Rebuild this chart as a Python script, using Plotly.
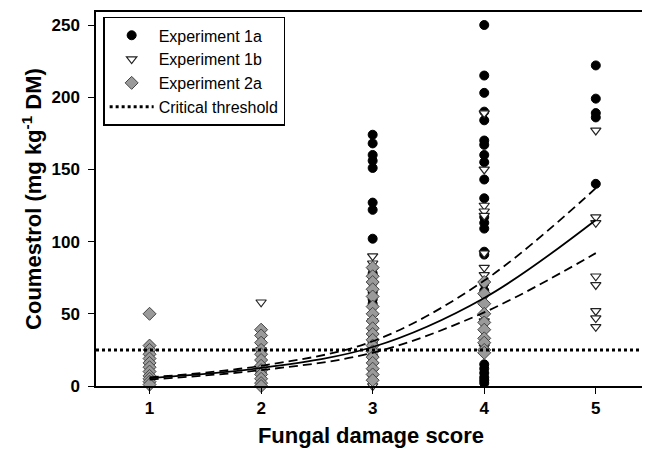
import plotly.graph_objects as go

# ---- data ----
exp1a_x = [3]*14 + [4]*24 + [5]*5
exp1a_y = [174, 168, 160, 156, 151, 127, 122, 102, 78, 65, 60, 57, 30, 25,
           250, 215, 203, 190, 184, 170, 167, 160, 155, 143, 130, 117, 113, 109, 93, 91, 71, 66, 15, 12, 9, 6, 4, 2,
           222, 199, 189, 186, 140]

exp1b_x = [1]*3 + [2]*3 + [3]*12 + [4]*11 + [5]*8
exp1b_y = [0, 3, 6,
           58, 25, 8,
           90, 85, 80, 70, 45, 38, 20, 15, 10, 6, 3, 0,
           189, 150, 125, 121, 118, 92, 82, 77, 62, 45, 27,
           177, 117, 113, 76, 70, 52, 47, 41]

exp2a_x = [1]*12 + [2]*12 + [3]*18 + [4]*10
exp2a_y = [50, 28, 25, 22, 19, 16, 13, 10, 7, 5, 3, 1,
           39, 35, 30, 25, 22, 18, 14, 11, 8, 5, 2, 0,
           82, 76, 72, 67, 62, 55, 50, 45, 40, 36, 32, 28, 24, 20, 16, 12, 8, 4,
           72, 64, 57, 50, 44, 39, 33, 30, 25, 23]

threshold = 25

fit_x = [1, 2, 3, 4, 5]
fit_mid = [5.5, 12.5, 27, 61, 115]
fit_upper = [6, 14, 31, 73, 137]
fit_lower = [4.5, 11, 23, 51, 92]

x_ticks = [1, 2, 3, 4, 5]
y_ticks = [0, 50, 100, 150, 200, 250]
X_RANGE = [0.52, 5.45]
Y_RANGE = [0, 259]

FONT = "Liberation Sans, Arial, sans-serif"

fig = go.Figure()

fig.add_trace(go.Scatter(
    x=exp1a_x, y=exp1a_y, mode="markers", name="Experiment 1a",
    marker=dict(symbol="circle", size=9, color="black", line=dict(color="black", width=1)),
    cliponaxis=False))
fig.add_trace(go.Scatter(
    x=exp1b_x, y=exp1b_y, mode="markers", name="Experiment 1b",
    marker=dict(symbol="triangle-down", size=9, color="white", line=dict(color="#222", width=1.2)),
    cliponaxis=False))
fig.add_trace(go.Scatter(
    x=exp2a_x, y=exp2a_y, mode="markers", name="Experiment 2a",
    marker=dict(symbol="diamond", size=10, color="#9a9a9a", line=dict(color="#444", width=1)),
    cliponaxis=False))
fig.add_trace(go.Scatter(
    x=[None], y=[None], mode="lines", name="Critical threshold",
    line=dict(color="black", width=3, dash="dot")))

fig.add_hline(y=threshold, line=dict(color="black", width=3, dash="dot"), layer="above")

for ys, dash in [(fit_upper, "9px,5px"), (fit_lower, "9px,5px"), (fit_mid, "solid")]:
    fig.add_trace(go.Scatter(
        x=fit_x, y=ys, mode="lines", showlegend=False, hoverinfo="skip",
        line=dict(color="black", width=1.8, dash=dash, shape="spline", smoothing=1.0)))

axis_common = dict(
    showgrid=False, zeroline=False, showline=True, linecolor="black", linewidth=1.5,
    mirror=True, ticks="outside", ticklen=6, tickwidth=1.2, tickcolor="black",
    tickfont=dict(family=FONT, size=17, color="black", weight="bold"),
    automargin=False,
)

fig.update_xaxes(range=X_RANGE, tickvals=x_ticks, ticktext=[str(t) for t in x_ticks],
                 title=dict(text="<b>Fungal damage score</b>", font=dict(family=FONT, size=22, color="black"), standoff=10),
                 **axis_common)
fig.update_yaxes(range=Y_RANGE, tickvals=y_ticks, ticktext=[str(t) for t in y_ticks],
                 ticklabelstandoff=5,
                 title=dict(text="<b>Coumestrol (mg kg<sup>-1</sup> DM)</b>", font=dict(family=FONT, size=22, color="black"), standoff=4),
                 **axis_common)

# page body adds an 8px offset; margins compensate so the plot lands where the reference has it
fig.update_layout(
    width=650, height=460,
    margin=dict(l=88, r=12, t=4, b=82),
    paper_bgcolor="white", plot_bgcolor="white",
    font=dict(family=FONT, color="black"),
    showlegend=True,
    legend=dict(x=0.013, y=0.987, xanchor="left", yanchor="top",
                bgcolor="white", bordercolor="black", borderwidth=1.5,
                font=dict(family=FONT, size=16, color="black"),
                itemwidth=44),
)

fig.write_html("out.html")
